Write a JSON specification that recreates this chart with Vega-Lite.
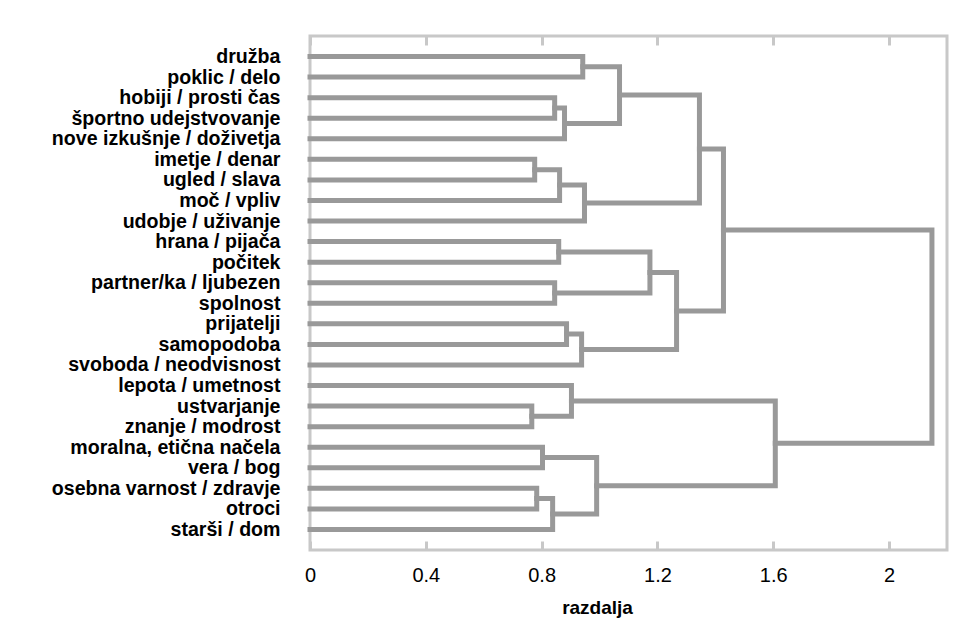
{
  "$schema": "https://vega.github.io/schema/vega-lite/v6.json",
  "width": 637,
  "height": 514,
  "autosize": {"type": "none"},
  "padding": {"left": 310, "top": 36, "right": 18, "bottom": 80},
  "background": "white",
  "config": {"view": {"stroke": "#c8c8c8", "strokeWidth": 3}, "font": "Liberation Sans"},
  "datasets": {
    "leaves": [
      {"leaf": "družba"}, {"leaf": "poklic / delo"}, {"leaf": "hobiji / prosti čas"}, {"leaf": "športno udejstvovanje"},
      {"leaf": "nove izkušnje / doživetja"}, {"leaf": "imetje / denar"}, {"leaf": "ugled / slava"}, {"leaf": "moč / vpliv"},
      {"leaf": "udobje / uživanje"}, {"leaf": "hrana / pijača"}, {"leaf": "počitek"}, {"leaf": "partner/ka / ljubezen"},
      {"leaf": "spolnost"}, {"leaf": "prijatelji"}, {"leaf": "samopodoba"}, {"leaf": "svoboda / neodvisnost"},
      {"leaf": "lepota / umetnost"}, {"leaf": "ustvarjanje"}, {"leaf": "znanje / modrost"}, {"leaf": "moralna, etična načela"},
      {"leaf": "vera / bog"}, {"leaf": "osebna varnost / zdravje"}, {"leaf": "otroci"}, {"leaf": "starši / dom"}
    ],
    "links": [
      {"m": 1, "o": 1, "x": 0, "y": 0}, {"m": 1, "o": 2, "x": 0.942, "y": 0}, {"m": 1, "o": 3, "x": 0.942, "y": 1}, {"m": 1, "o": 4, "x": 0, "y": 1},
      {"m": 2, "o": 1, "x": 0, "y": 2}, {"m": 2, "o": 2, "x": 0.845, "y": 2}, {"m": 2, "o": 3, "x": 0.845, "y": 3}, {"m": 2, "o": 4, "x": 0, "y": 3},
      {"m": 3, "o": 1, "x": 0.845, "y": 2.5}, {"m": 3, "o": 2, "x": 0.879, "y": 2.5}, {"m": 3, "o": 3, "x": 0.879, "y": 4}, {"m": 3, "o": 4, "x": 0, "y": 4},
      {"m": 4, "o": 1, "x": 0.942, "y": 0.5}, {"m": 4, "o": 2, "x": 1.069, "y": 0.5}, {"m": 4, "o": 3, "x": 1.069, "y": 3.25}, {"m": 4, "o": 4, "x": 0.879, "y": 3.25},
      {"m": 5, "o": 1, "x": 0, "y": 5}, {"m": 5, "o": 2, "x": 0.776, "y": 5}, {"m": 5, "o": 3, "x": 0.776, "y": 6}, {"m": 5, "o": 4, "x": 0, "y": 6},
      {"m": 6, "o": 1, "x": 0.776, "y": 5.5}, {"m": 6, "o": 2, "x": 0.862, "y": 5.5}, {"m": 6, "o": 3, "x": 0.862, "y": 7}, {"m": 6, "o": 4, "x": 0, "y": 7},
      {"m": 7, "o": 1, "x": 0.862, "y": 6.25}, {"m": 7, "o": 2, "x": 0.948, "y": 6.25}, {"m": 7, "o": 3, "x": 0.948, "y": 8}, {"m": 7, "o": 4, "x": 0, "y": 8},
      {"m": 8, "o": 1, "x": 1.069, "y": 1.875}, {"m": 8, "o": 2, "x": 1.345, "y": 1.875}, {"m": 8, "o": 3, "x": 1.345, "y": 7.125}, {"m": 8, "o": 4, "x": 0.948, "y": 7.125},
      {"m": 9, "o": 1, "x": 0, "y": 9}, {"m": 9, "o": 2, "x": 0.859, "y": 9}, {"m": 9, "o": 3, "x": 0.859, "y": 10}, {"m": 9, "o": 4, "x": 0, "y": 10},
      {"m": 10, "o": 1, "x": 0, "y": 11}, {"m": 10, "o": 2, "x": 0.845, "y": 11}, {"m": 10, "o": 3, "x": 0.845, "y": 12}, {"m": 10, "o": 4, "x": 0, "y": 12},
      {"m": 11, "o": 1, "x": 0.859, "y": 9.5}, {"m": 11, "o": 2, "x": 1.174, "y": 9.5}, {"m": 11, "o": 3, "x": 1.174, "y": 11.5}, {"m": 11, "o": 4, "x": 0.845, "y": 11.5},
      {"m": 12, "o": 1, "x": 0, "y": 13}, {"m": 12, "o": 2, "x": 0.886, "y": 13}, {"m": 12, "o": 3, "x": 0.886, "y": 14}, {"m": 12, "o": 4, "x": 0, "y": 14},
      {"m": 13, "o": 1, "x": 0.886, "y": 13.5}, {"m": 13, "o": 2, "x": 0.938, "y": 13.5}, {"m": 13, "o": 3, "x": 0.938, "y": 15}, {"m": 13, "o": 4, "x": 0, "y": 15},
      {"m": 14, "o": 1, "x": 1.174, "y": 10.5}, {"m": 14, "o": 2, "x": 1.266, "y": 10.5}, {"m": 14, "o": 3, "x": 1.266, "y": 14.25}, {"m": 14, "o": 4, "x": 0.938, "y": 14.25},
      {"m": 15, "o": 1, "x": 1.345, "y": 4.5}, {"m": 15, "o": 2, "x": 1.428, "y": 4.5}, {"m": 15, "o": 3, "x": 1.428, "y": 12.375}, {"m": 15, "o": 4, "x": 1.266, "y": 12.375},
      {"m": 16, "o": 1, "x": 0, "y": 17}, {"m": 16, "o": 2, "x": 0.766, "y": 17}, {"m": 16, "o": 3, "x": 0.766, "y": 18}, {"m": 16, "o": 4, "x": 0, "y": 18},
      {"m": 17, "o": 1, "x": 0, "y": 16}, {"m": 17, "o": 2, "x": 0.903, "y": 16}, {"m": 17, "o": 3, "x": 0.903, "y": 17.5}, {"m": 17, "o": 4, "x": 0.766, "y": 17.5},
      {"m": 18, "o": 1, "x": 0, "y": 19}, {"m": 18, "o": 2, "x": 0.803, "y": 19}, {"m": 18, "o": 3, "x": 0.803, "y": 20}, {"m": 18, "o": 4, "x": 0, "y": 20},
      {"m": 19, "o": 1, "x": 0, "y": 21}, {"m": 19, "o": 2, "x": 0.783, "y": 21}, {"m": 19, "o": 3, "x": 0.783, "y": 22}, {"m": 19, "o": 4, "x": 0, "y": 22},
      {"m": 20, "o": 1, "x": 0.783, "y": 21.5}, {"m": 20, "o": 2, "x": 0.838, "y": 21.5}, {"m": 20, "o": 3, "x": 0.838, "y": 23}, {"m": 20, "o": 4, "x": 0, "y": 23},
      {"m": 21, "o": 1, "x": 0.803, "y": 19.5}, {"m": 21, "o": 2, "x": 0.99, "y": 19.5}, {"m": 21, "o": 3, "x": 0.99, "y": 22.25}, {"m": 21, "o": 4, "x": 0.838, "y": 22.25},
      {"m": 22, "o": 1, "x": 0.903, "y": 16.75}, {"m": 22, "o": 2, "x": 1.607, "y": 16.75}, {"m": 22, "o": 3, "x": 1.607, "y": 20.875}, {"m": 22, "o": 4, "x": 0.99, "y": 20.875},
      {"m": 23, "o": 1, "x": 1.428, "y": 8.4375}, {"m": 23, "o": 2, "x": 2.148, "y": 8.4375}, {"m": 23, "o": 3, "x": 2.148, "y": 18.8125}, {"m": 23, "o": 4, "x": 1.607, "y": 18.8125}
    ]
  },
  "layer": [
    {
      "data": {"name": "leaves"},
      "mark": {"type": "point", "opacity": 0},
      "encoding": {
        "y": {
          "field": "leaf", "type": "nominal", "sort": null,
          "scale": {"type": "point", "padding": 1},
          "axis": {"title": null, "orient": "left", "domain": false, "ticks": false, "tickSize": 0, "labelPadding": 30,
                   "labelFontSize": 19.6, "labelFontWeight": "bold", "labelColor": "black", "labelFont": "Liberation Sans", "labelLimit": 400}
        }
      }
    },
    {
      "data": {"name": "links"},
      "mark": {"type": "line", "color": "#999999", "strokeWidth": 5, "strokeJoin": "miter", "strokeCap": "square"},
      "encoding": {
        "x": {
          "field": "x", "type": "quantitative",
          "scale": {"domain": [0, 2.2], "nice": false, "zero": false},
          "axis": {"orient": "bottom", "values": [0, 0.4, 0.8, 1.2, 1.6, 2], "format": "~g", "grid": false, "domain": false,
                   "labelFlush": false, "labelOverlap": false,
                   "tickColor": "#c8c8c8", "tickWidth": 3, "tickSize": -9, "labelPadding": 24, "labelFontSize": 20,
                   "labelColor": "black", "labelFont": "Liberation Sans",
                   "title": "razdalja", "titleFontSize": 19, "titleFontWeight": "bold", "titleColor": "black",
                   "titleFont": "Liberation Sans", "titleX": 287, "titleY": 48, "titleBaseline": "top", "titleAlign": "center"}
        },
        "y": {"field": "y", "type": "quantitative", "scale": {"domain": [-1, 24], "reverse": true, "nice": false, "zero": false}, "axis": null},
        "detail": {"field": "m", "type": "nominal"},
        "order": {"field": "o", "type": "quantitative"}
      }
    },
    {
      "data": {"name": "links"},
      "mark": {"type": "line", "opacity": 0},
      "encoding": {
        "x": {
          "field": "x", "type": "quantitative",
          "scale": {"domain": [0, 2.2], "nice": false, "zero": false},
          "axis": {"orient": "top", "values": [0, 0.4, 0.8, 1.2, 1.6, 2], "grid": false, "domain": false, "labels": false,
                   "tickColor": "#c8c8c8", "tickWidth": 3, "tickSize": -9, "title": null}
        },
        "y": {"field": "y", "type": "quantitative", "scale": {"domain": [-1, 24], "reverse": true, "nice": false, "zero": false}, "axis": null},
        "detail": {"field": "m", "type": "nominal"},
        "order": {"field": "o", "type": "quantitative"}
      }
    }
  ],
  "resolve": {"scale": {"y": "independent"}, "axis": {"y": "independent", "x": "independent"}}
}
